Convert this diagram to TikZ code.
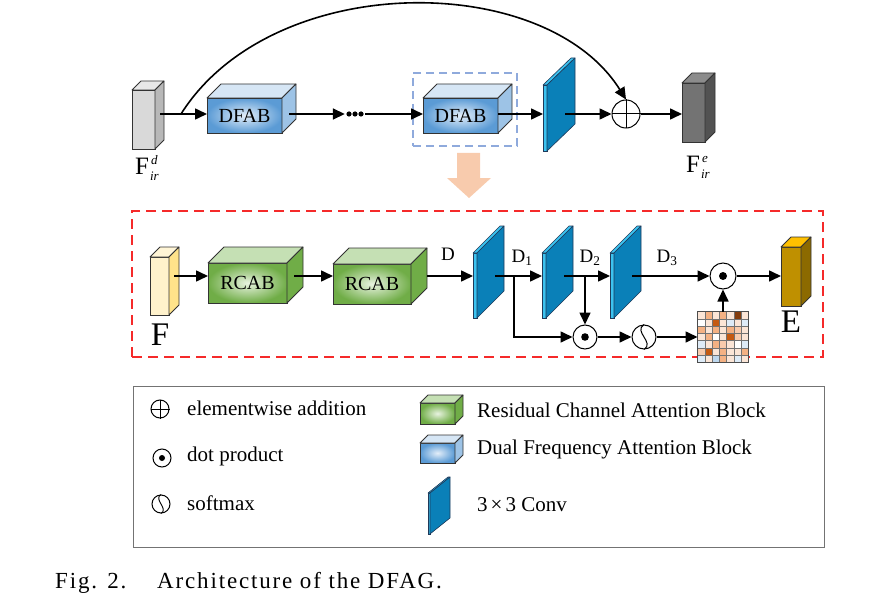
\documentclass[tikz,border=0pt]{standalone}
\usepackage{fontspec}
\setmainfont{Liberation Serif}
\newfontfamily\capfont[LetterSpace=8]{Liberation Serif}
\usetikzlibrary{arrows.meta,calc}
\definecolor{dfabout}{HTML}{5B9BD5}
\definecolor{dfabin}{HTML}{E3EEF9}
\definecolor{dfabtop}{HTML}{D6E6F5}
\definecolor{dfabside}{HTML}{9DC3E6}
\definecolor{rcabout}{HTML}{70AD47}
\definecolor{rcabin}{HTML}{E8F3E0}
\definecolor{rcabtop}{HTML}{C5E0B4}
\definecolor{rcabside}{HTML}{70AD47}
\definecolor{convside}{HTML}{0A80B8}
\definecolor{convlight}{HTML}{3CC3F0}
\definecolor{convedge}{HTML}{1F3A5A}
\definecolor{dashblue}{HTML}{8FAADC}
\definecolor{boxred}{HTML}{F52A2A}
\definecolor{peach}{HTML}{F8CBAD}
\definecolor{ma}{HTML}{FBE5D6}
\definecolor{mb}{HTML}{F8CBAD}
\definecolor{mc}{HTML}{F4B183}
\definecolor{md}{HTML}{C55A11}
\definecolor{me}{HTML}{843C0C}
\definecolor{mw}{HTML}{FFFFFF}
\definecolor{ml}{HTML}{DEEBF7}
\definecolor{mm}{HTML}{BDD7EE}
\definecolor{fyfront}{HTML}{FFF2CC}
\definecolor{fytop}{HTML}{FFF5D6}
\definecolor{fyside}{HTML}{FFE38A}
\definecolor{efront}{HTML}{BF9000}
\definecolor{etop}{HTML}{FFC000}
\definecolor{eside}{HTML}{8C6A00}
\newcommand{\cuboid}[9]{%
  \node[cubefront, minimum width=#3, minimum height=#4, #6] (#1) at #2 {#9};
  \filldraw[faceline, fill=#7] (#1.north west) -- ++(#5,-#5) -- ++(#3,0) -- (#1.north east) -- cycle;
  \filldraw[faceline, fill=#8] (#1.north east) -- ++(#5,-#5) -- ++(0,#4) -- (#1.south east) -- cycle;
}
\newcommand{\convblock}[7]{%
  \node[convfront, minimum width=#7, minimum height=#4] (#1) at ({#2+#7/2},{#3+#4/2}) {};
  \filldraw[convline, fill=convlight] (#1.north west) -- ++(#5,-#6) -- ++(#7,0) -- (#1.north east) -- cycle;
  \filldraw[convline, fill=convside] (#1.north east) -- ++(#5,-#6) -- ++(0,#4) -- (#1.south east) -- cycle;
}
\newcommand{\Flab}[1]{F\kern1pt\rlap{\raisebox{10pt}[0pt][0pt]{\fontsize{13}{14}\selectfont\kern1pt\textit{#1}}}\raisebox{-6pt}[0pt][0pt]{\fontsize{13}{14}\selectfont\textit{ir}}}
\begin{document}
\begin{tikzpicture}[x=1pt,y=-1pt,
  cubefront/.style={draw=black!80, line width=0.8pt, inner sep=0pt, outer sep=0pt,
     font=\fontsize{20}{24}\selectfont},
  faceline/.style={draw=black!80, line width=0.8pt, line join=round},
  convfront/.style={draw=convedge, fill=convlight, line width=0.6pt, inner sep=0pt, outer sep=0pt},
  convline/.style={draw=convedge, line width=0.6pt, line join=round},
  arr/.style={line width=1.6pt, -{Triangle[length=12pt,width=11pt]}},
  opc/.style={circle, draw, line width=1pt, minimum size=#1, inner sep=0pt, fill=white},
  opc/.default=28,
  lbl/.style={font=\fontsize{19}{22}\selectfont, inner sep=0pt},
  leg/.style={font=\fontsize{21}{24}\selectfont, anchor=west, inner sep=0pt},
  captxt/.style={font=\capfont\fontsize{23}{26}\selectfont, anchor=base west, inner sep=0pt}
]
\useasboundingbox (0,0) rectangle (890,604);
\coordinate (r1) at (0,114);
\coordinate (r2) at (0,276);

% ---------------- top row ----------------
\node[draw=dashblue, dash pattern=on 8pt off 5pt, line width=1.5pt, minimum width=104, minimum height=73, inner sep=0pt] (sel) at (465,109.5) {};
\cuboid{fd}{(143.5,119.5)}{23}{59}{9}{fill=black!15}{black!9}{black!28}{}
\node[font=\fontsize{25}{28}\selectfont, inner sep=0pt] (fdl) at (147,166) {\Flab{d}};
\cuboid{dfab1}{(244.5,115.5)}{75}{35}{14}{inner color=dfabin, outer color=dfabout}{dfabtop}{dfabside}{DFAB}
\node[minimum width=20, minimum height=8, inner sep=0pt] (dots) at (355,114) {};
\foreach \k in {-6,0,6} \fill ($(dots.center)+(\k,0)$) circle (2.6);
\cuboid{dfab2}{(460.5,115.5)}{75}{35}{14}{inner color=dfabin, outer color=dfabout}{dfabtop}{dfabside}{DFAB}
\convblock{c0}{543}{85}{66}{28}{27}{4}
\node[opc] (plus) at (626,114) {};
\draw[line width=1pt] (plus.north) -- (plus.south) (plus.west) -- (plus.east);
\cuboid{fe}{(693.5,112.5)}{23}{59}{10}{fill=black!55}{black!45}{black!68}{}
\node[font=\fontsize{25}{28}\selectfont, inner sep=0pt] (fel) at (698,164) {\Flab{e}};
\coordinate (split) at (181,114);

\draw[arr] ([xshift=5pt]fd.east |- r1) -- (dfab1.west |- r1);
\draw[arr] ([xshift=7pt]dfab1.east |- r1) -- (dots.west |- r1);
\draw[arr] (dots.east |- r1) -- (dfab2.west |- r1);
\draw[arr] (dfab2.east |- r1) -- (c0.west |- r1);
\draw[arr] ([xshift=18pt]c0.east |- r1) -- (plus.west);
\draw[arr] (plus.east) -- (fe.west |- r1);
\draw[arr] (split) .. controls (272,-30) and (545,-30) .. (plus.north);

% big orange arrow
\fill[peach] (457,153) -- (480,153) -- (480,178) -- (491,178) -- (469,198) -- (447,178) -- (457,178) -- cycle;

% ---------------- detail ----------------
\node[draw=boxred, dash pattern=on 10pt off 6pt, line width=2pt, minimum width=691, minimum height=146, inner sep=0pt] (detail) at (477.5,284) {};
\cuboid{fy}{(159.5,286)}{19}{58}{10}{fill=fyfront}{fytop}{fyside}{}
\node[font=\fontsize{33}{36}\selectfont, inner sep=0pt] (fyl) at (160,335) {F};
\cuboid{rcab1}{(247.5,283)}{79}{40}{16}{inner color=rcabin, outer color=rcabout}{rcabtop}{rcabside}{RCAB}
\cuboid{rcab2}{(372,284)}{78}{40}{16}{inner color=rcabin, outer color=rcabout}{rcabtop}{rcabside}{RCAB}
\convblock{c1}{473}{253}{65}{27}{27}{4}
\convblock{c2}{542}{253}{65}{27}{27}{4}
\convblock{c3}{610}{253}{65}{27}{27}{4}
\node[lbl] (lD) at (448,254) {D};
\node[lbl] (lD1) at (522,258) {D\textsubscript{1}};
\node[lbl] (lD2) at (590,258) {D\textsubscript{2}};
\node[lbl] (lD3) at (667,258) {D\textsubscript{3}};
\node[opc=26] (dotA) at (723,276) {};
\fill (dotA.center) circle (4);
\cuboid{E}{(791,276.5)}{20}{59}{10}{fill=efront}{etop}{eside}{}
\node[font=\fontsize{33}{36}\selectfont, inner sep=0pt] (El) at (791,322) {E};
\node[opc=24] (dotB) at (585,337) {};
\fill (dotB.center) circle (3.8);
\node[opc=24] (soft) at (644,337) {};
\draw[line width=1pt] (soft.north) .. controls +(-11,7) and +(11,-7) .. (soft.south);
\node[minimum width=51, minimum height=51, inner sep=0pt, outer sep=0pt] (attn) at (723,337) {};
\foreach \row [count=\i from 0] in {{a,c,a,c,a,e,a},{w,a,d,a,l,a,l},{c,a,c,a,c,b,a},{a,c,w,a,d,b,a},{l,a,c,b,a,w,l},{b,d,a,c,a,a,c},{l,a,m,c,a,l,a}}{
  \foreach \c [count=\j from 0] in \row {
    \fill[m\c] ($(attn.north west)+({\j*51/7},{\i*51/7})$) rectangle +({51/7},{51/7});
  }
}
\foreach \k in {1,...,6}{
  \draw[black!55, line width=0.5pt] ($(attn.north west)+({\k*51/7},0)$) -- +(0,51);
  \draw[black!55, line width=0.5pt] ($(attn.north west)+(0,{\k*51/7})$) -- +(51,0);
}
\draw[black!70, line width=0.8pt] (attn.north west) rectangle (attn.south east);
\coordinate (b1) at (514,276);
\coordinate (b2) at (585,276);

\draw[arr] ([xshift=5pt]fy.east |- r2) -- (rcab1.west |- r2);
\draw[arr] ([xshift=7pt]rcab1.east |- r2) -- (rcab2.west |- r2);
\draw[arr] ([xshift=16pt]rcab2.east |- r2) -- (c1.west |- r2);
\draw[arr] ([xshift=18pt]c1.east |- r2) -- (c2.west |- r2);
\draw[arr] ([xshift=18pt]c2.east |- r2) -- (c3.west |- r2);
\draw[arr] ([xshift=18pt]c3.east |- r2) -- (dotA.west);
\draw[arr] (dotA.east) -- (E.west |- dotA.east);
\draw[arr] (b1) |- (dotB.west);
\draw[arr] (b2) -- (dotB.north);
\draw[arr] (dotB.east) -- (soft.west);
\draw[arr] (soft.east) -- (attn.west);
\draw[arr] (attn.north) -- (dotA.south);

% ---------------- legend ----------------
\node[draw=black!55, line width=1pt, minimum width=691, minimum height=161, inner sep=0pt] (legend) at (478.5,466.5) {};
\node[opc=18] (lplus) at (160,409) {};
\draw[line width=0.9pt] (lplus.north) -- (lplus.south) (lplus.west) -- (lplus.east);
\node[leg] (tplus) at (187,408) {elementwise addition};
\node[opc=18] (ldot) at (162,458) {};
\fill (ldot.center) circle (3);
\node[leg] (tdot) at (187,456) {dot product};
\node[opc=18] (lsoft) at (161,504) {};
\draw[line width=0.9pt] (lsoft.north) .. controls +(-8,5) and +(8,-5) .. (lsoft.south);
\node[leg] (tsoft) at (187,503) {softmax};
\cuboid{lrcab}{(437.5,413.5)}{35}{21}{8}{inner color=rcabin, outer color=rcabout}{rcabtop}{rcabside}{}
\node[leg] (trcab) at (477,410) {Residual Channel Attention Block};
\cuboid{ldfab}{(437.5,453)}{35}{20}{8}{inner color=dfabin, outer color=dfabout}{dfabtop}{dfabside}{}
\node[leg] (tdfab) at (477,449) {Dual Frequency Attention Block};
\convblock{lconv}{428}{493}{41}{20}{16}{2}
\node[leg] (tconv) at (477,505) {3\kern3pt×\kern3pt3 Conv};

% ---------------- caption ----------------
\node[captxt] (fig) at (55,588) {Fig. 2.};
\node[captxt] (capt) at (157,588) {Architecture of the DFAG.};
\end{tikzpicture}
\end{document}
